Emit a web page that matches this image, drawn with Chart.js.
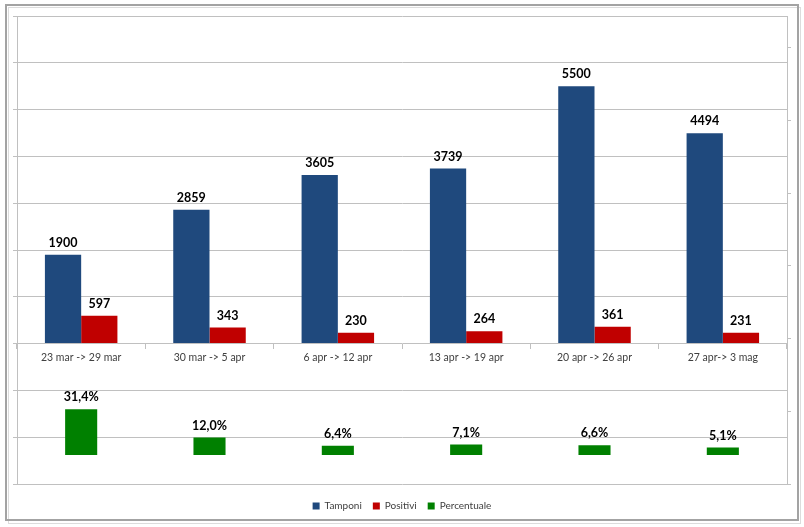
<!DOCTYPE html>
<html>
<head>
<meta charset="utf-8">
<script src="https://cdn.jsdelivr.net/npm/chart.js@4.4.0/dist/chart.umd.min.js"></script>
<style>
  html, body { margin: 0; padding: 0; background: #fff; }
</style>
</head>
<body>
<canvas id="chart" width="804" height="527"></canvas>
<script>
const weeks = ['23 mar -> 29 mar', '30 mar -> 5 apr', '6 apr -> 12 apr', '13 apr -> 19 apr', '20 apr -> 26 apr', '27 apr-> 3 mag']
const tamponi = [1900, 2859, 3605, 3739, 5500, 4494]
const positivi = [597, 343, 230, 264, 361, 231]
const percentuale = [0.314, 0.120, 0.064, 0.071, 0.066, 0.051]
// secondary axis tick marks (right side, no labels)
const pctTicks = [-0.2, 0.3, 0.8, 1.3, 1.8, 2.3, 2.8]

const gridGray = '#c0c0c0'

// white background + the grey frame round the whole chart
const frame = {
  id: 'frame',
  beforeDraw(chart) {
    const ctx = chart.ctx
    ctx.save()
    ctx.fillStyle = '#fff'
    ctx.fillRect(0, 0, chart.width, chart.height)
    ctx.strokeStyle = '#dcdcdc'
    ctx.lineWidth = 1
    ctx.strokeRect(8.5, 7.5, 792, 516)
    ctx.strokeStyle = '#a3a3a3'
    ctx.lineWidth = 2
    ctx.strokeRect(6, 5, 792, 515)
    ctx.restore()
  }
}

// value labels above each bar
const valueLabels = {
  id: 'valueLabels',
  afterDatasetsDraw(chart) {
    const ctx = chart.ctx
    ctx.save()
    ctx.font = 'bold 12.5px Lato'
    ctx.fillStyle = '#000'
    ctx.textAlign = 'center'
    ctx.textBaseline = 'middle'
    chart.data.datasets.forEach((ds, i) => {
      chart.getDatasetMeta(i).data.forEach((bar, j) => {
        const v = ds.data[j]
        let txt = String(v)
        if (ds.yAxisID === 'y2') txt = (v * 100).toFixed(1).replace('.', ',') + '%'
        ctx.fillText(txt, bar.x, bar.y - 12)
      })
    })
    ctx.restore()
  }
}

// push the legend down a little, like the Excel original
const legendShift = {
  id: 'legendShift',
  afterLayout(chart) {
    if (chart.legend) {
      chart.legend.top += 6
      chart.legend.bottom += 6
    }
  }
}

const ctx = document.getElementById('chart').getContext('2d')
const myChart = new Chart(ctx, {
  type: 'bar',
  data: {
    labels: weeks,
    datasets: [
      {
        label: 'Tamponi',
        data: tamponi,
        backgroundColor: '#1f497d',
        yAxisID: 'y',
        categoryPercentage: 0.565,
        barPercentage: 1
      },
      {
        label: 'Positivi',
        data: positivi,
        backgroundColor: '#c00000',
        yAxisID: 'y',
        categoryPercentage: 0.565,
        barPercentage: 1
      },
      {
        label: 'Percentuale',
        data: percentuale,
        backgroundColor: '#008000',
        yAxisID: 'y2',
        grouped: false,
        categoryPercentage: 0.25,
        barPercentage: 1
      }
    ]
  },
  options: {
    responsive: false,
    animation: false,
    devicePixelRatio: 1,
    layout: { padding: { left: 13, right: 13, top: 16, bottom: 12 } },
    plugins: {
      tooltip: { enabled: false },
      legend: {
        position: 'bottom',
        labels: {
          boxWidth: 7,
          boxHeight: 7,
          padding: 11,
          color: '#404040',
          font: { family: 'Lato', size: 10 }
        }
      }
    },
    scales: {
      x: {
        position: { y: 0 },
        grid: { drawOnChartArea: false, tickLength: 5, color: gridGray, offset: true },
        border: { display: false },
        ticks: {
          color: '#404040',
          font: { family: 'Lato', size: 10.5 },
          padding: 3,
          maxRotation: 0,
          autoSkip: false
        },
        afterFit(s) { s.height = 0 }
      },
      y: {
        min: -3000,
        max: 7000,
        ticks: { stepSize: 1000, display: false },
        grid: { color: gridGray, tickLength: 4 },
        border: { color: gridGray },
        afterFit(s) { s.width = 4 }
      },
      y2: {
        position: 'right',
        min: -0.2,
        max: 3.02,
        ticks: { display: false },
        grid: { drawOnChartArea: false, color: gridGray, tickLength: 4 },
        border: { color: gridGray },
        afterBuildTicks(s) { s.ticks = pctTicks.map(v => ({ value: v })) },
        afterFit(s) { s.width = 4 }
      }
    }
  },
  plugins: [frame, valueLabels, legendShift]
})
</script>
</body>
</html>
